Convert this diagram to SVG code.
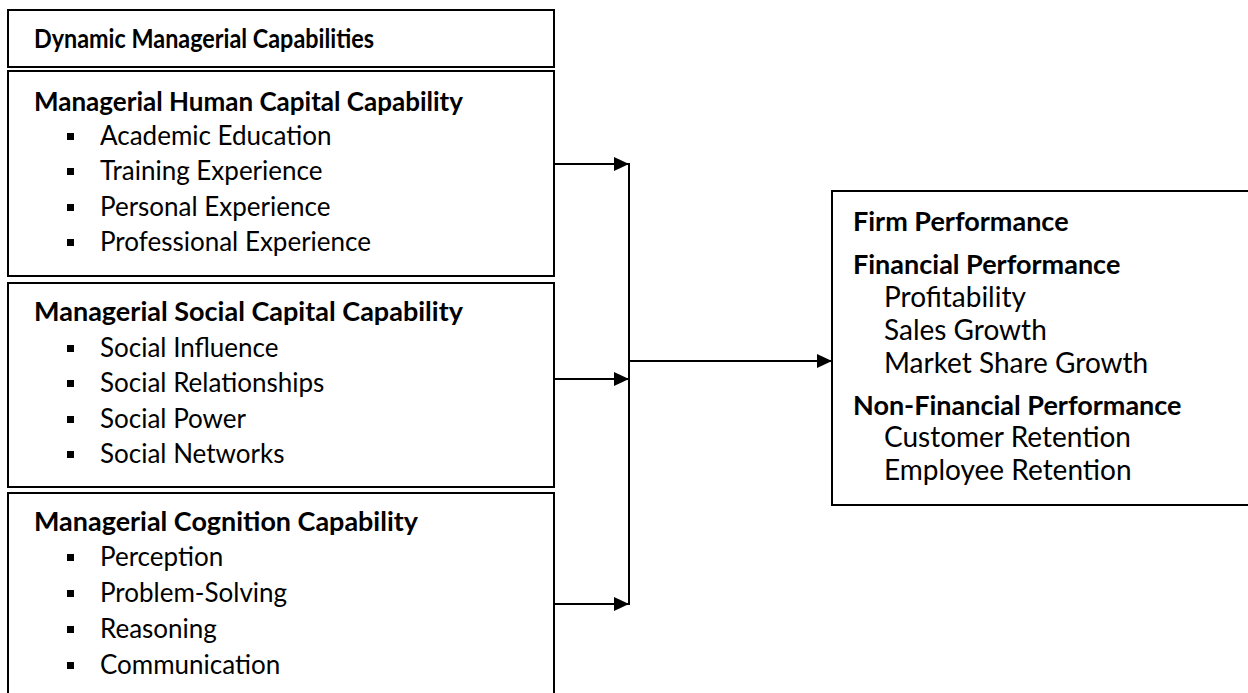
<svg xmlns="http://www.w3.org/2000/svg" width="1248" height="693" viewBox="0 0 1248 693">
<style>
.box{fill:#fff;stroke:#000;stroke-width:2}
.t{font-family:Lato,"Liberation Sans",sans-serif;font-size:26px;fill:#000}
.r{font-size:27px}
.ri{font-size:28px}
.b{font-weight:bold}
.bul{fill:#000}
.c{stroke:#000;stroke-width:2;fill:none}
</style>
<defs>
<marker id="ah" markerWidth="15" markerHeight="14" refX="15" refY="7" orient="auto" markerUnits="userSpaceOnUse">
<path d="M0,0 L15,7 L0,14 Z" fill="#000"/>
</marker>
</defs>
<rect width="1248" height="693" fill="#fff"/>
<g id="node-dmc">
<rect class="box" x="8" y="10" width="546" height="57"/>
<text class="t b" x="34" y="48" textLength="340" lengthAdjust="spacingAndGlyphs">Dynamic Managerial Capabilities</text>
</g>
<g id="node-human">
<rect class="box" x="8" y="71" width="546" height="205"/>
<text class="t b" x="34" y="111" textLength="429" lengthAdjust="spacingAndGlyphs">Managerial Human Capital Capability</text>
<rect class="bul" x="67" y="133" width="7" height="7"/>
<rect class="bul" x="67" y="168" width="7" height="7"/>
<rect class="bul" x="67" y="204" width="7" height="7"/>
<rect class="bul" x="67" y="239" width="7" height="7"/>
<text class="t" x="100" y="145">Academic Education</text>
<text class="t" x="100" y="180">Training Experience</text>
<text class="t" x="100" y="216">Personal Experience</text>
<text class="t" x="100" y="251">Professional Experience</text>
</g>
<g id="node-social">
<rect class="box" x="8" y="283" width="546" height="204"/>
<text class="t b" x="34" y="321" textLength="429" lengthAdjust="spacingAndGlyphs">Managerial Social Capital Capability</text>
<rect class="bul" x="67" y="345" width="7" height="7"/>
<rect class="bul" x="67" y="380" width="7" height="7"/>
<rect class="bul" x="67" y="416" width="7" height="7"/>
<rect class="bul" x="67" y="451" width="7" height="7"/>
<text class="t" x="100" y="357">Social Influence</text>
<text class="t" x="100" y="392">Social Relationships</text>
<text class="t" x="100" y="428">Social Power</text>
<text class="t" x="100" y="463">Social Networks</text>
</g>
<g id="node-cognition">
<rect class="box" x="8" y="493" width="546" height="220"/>
<text class="t b" x="34" y="531" textLength="384" lengthAdjust="spacingAndGlyphs">Managerial Cognition Capability</text>
<rect class="bul" x="67" y="554" width="7" height="7"/>
<rect class="bul" x="67" y="590" width="7" height="7"/>
<rect class="bul" x="67" y="626" width="7" height="7"/>
<rect class="bul" x="67" y="662" width="7" height="7"/>
<text class="t" x="100" y="566">Perception</text>
<text class="t" x="100" y="602">Problem-Solving</text>
<text class="t" x="100" y="638">Reasoning</text>
<text class="t" x="100" y="674">Communication</text>
</g>
<g id="node-firm">
<rect class="box" x="832" y="191" width="430" height="314"/>
<text class="t r b" x="853" y="231">Firm Performance</text>
<text class="t r b" x="853" y="274">Financial Performance</text>
<text class="t ri" x="884" y="307">Profitability</text>
<text class="t ri" x="884" y="340">Sales Growth</text>
<text class="t ri" x="884" y="373">Market Share Growth</text>
<text class="t r b" x="853" y="415">Non-Financial Performance</text>
<text class="t ri" x="884" y="447">Customer Retention</text>
<text class="t ri" x="884" y="480">Employee Retention</text>
</g>
<g id="connectors">
<line class="c" x1="554" y1="164" x2="629" y2="164" marker-end="url(#ah)"/>
<line class="c" x1="554" y1="379" x2="629" y2="379" marker-end="url(#ah)"/>
<line class="c" x1="554" y1="604" x2="629" y2="604" marker-end="url(#ah)"/>
<line class="c" x1="629" y1="163" x2="629" y2="605"/>
<line class="c" x1="629" y1="361" x2="832" y2="361" marker-end="url(#ah)"/>
</g>
</svg>
